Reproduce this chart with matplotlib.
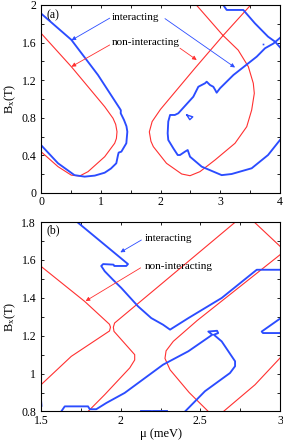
import matplotlib
matplotlib.use('Agg')
import matplotlib.pyplot as plt
from matplotlib.ticker import MultipleLocator

plt.rcParams['font.family'] = ['Liberation Serif', 'DejaVu Serif']
plt.rcParams['mathtext.fontset'] = 'custom'
plt.rcParams['mathtext.rm'] = 'Liberation Serif'
plt.rcParams['mathtext.it'] = 'Liberation Serif:italic'
plt.rcParams['font.size'] = 8

blue = '#2b4cff'
red = '#ff3030'

# ---- panel (a) ----
a_blue_left_x = [0, 0.507, 0.954, 1.317, 1.336, 1.334, 1.389, 1.43, 1.445, 1.428, 1.345, 1.30, 1.289, 1.26, 1.17, 1.066, 0.90, 0.73, 0.56, 0.285, 0]
a_blue_left_y = [1.91, 1.63, 1.255, 0.90, 0.88, 0.848, 0.777, 0.71, 0.652, 0.529, 0.44, 0.43, 0.404, 0.316, 0.26, 0.216, 0.185, 0.174, 0.19, 0.316, 0.51]

a_red_left_x = [0, 0.507, 1.066, 1.205, 1.25, 1.272, 1.262, 1.233, 1.066, 0.787, 0.647, 0.507, 0.285, 0]
a_red_left_y = [1.70, 1.344, 0.918, 0.795, 0.73, 0.652, 0.58, 0.529, 0.386, 0.227, 0.181, 0.19, 0.28, 0.44]

a_red_mid_x = [3.51, 3.04, 2.58, 2.0, 1.86, 1.813, 1.84, 1.88, 2.10, 2.355, 2.494, 2.66, 2.912, 3.247, 3.443, 3.526, 3.57, 3.553, 3.47, 3.30, 3.04, 2.60]
a_red_mid_y = [2.0, 1.67, 1.33, 0.89, 0.76, 0.65, 0.55, 0.493, 0.316, 0.202, 0.184, 0.227, 0.351, 0.529, 0.705, 0.883, 1.06, 1.167, 1.344, 1.52, 1.68, 2.0]

a_blue_top_x = [3.05, 3.108, 3.386, 3.58, 3.80, 3.916, 4.0]
a_blue_top_y = [2.0, 1.947, 1.947, 1.805, 1.663, 1.61, 1.55]

a_blue_mid_x = [4.0, 3.89, 3.75, 3.61, 3.22, 2.996, 2.94, 2.912, 2.884, 2.828, 2.773, 2.745, 2.69, 2.633, 2.549, 2.298, 2.24, 2.16, 2.13, 2.12, 2.13, 2.215, 2.288, 2.326, 2.41, 2.455, 2.494, 2.69, 3.024, 3.19, 3.526, 3.80, 4.0]
a_blue_mid_y = [1.65, 1.59, 1.54, 1.45, 1.255, 1.114, 1.067, 1.10, 1.13, 1.149, 1.184, 1.167, 1.149, 1.13, 1.024, 0.848, 0.83, 0.83, 0.76, 0.635, 0.564, 0.475, 0.404, 0.404, 0.44, 0.457, 0.386, 0.28, 0.19, 0.202, 0.263, 0.404, 0.564]

a_tri_x = [2.44, 2.54, 2.49, 2.44]
a_tri_y = [0.83, 0.81, 0.78, 0.83]
a_dot_x = [3.72]
a_dot_y = [1.59]

# ---- panel (b) ----
b_red_left_x = [1.5, 1.774, 1.93, 1.936, 1.93, 1.69, 1.5]
b_red_left_y = [1.566, 1.381, 1.26, 1.245, 1.225, 1.091, 0.941]

b_red_right_x = [2.72, 2.24, 1.962, 1.954, 1.958, 2.088, 2.088, 2.057, 1.90, 1.795]
b_red_right_y = [1.80, 1.462, 1.267, 1.245, 1.223, 1.10, 1.072, 1.03, 0.889, 0.80]

b_red_loop_x = [3.0, 2.72, 2.48, 2.33, 2.285, 2.278, 2.31, 2.43, 2.55]
b_red_loop_y = [1.627, 1.44, 1.28, 1.17, 1.12, 1.08, 1.02, 0.90, 0.80]

b_red_tr_x = [2.838, 3.0]
b_red_tr_y = [1.80, 1.672]

b_red_br_x = [2.645, 2.843, 3.0]
b_red_br_y = [0.80, 0.941, 1.082]

b_blue_top_x = [1.727, 2.046, 2.035, 1.96, 1.955, 1.89, 1.878, 1.90, 1.952, 2.004, 2.109, 2.192, 2.266, 2.31, 2.425, 2.634, 2.854, 3.0]
b_blue_top_y = [1.80, 1.578, 1.568, 1.568, 1.575, 1.578, 1.568, 1.54, 1.495, 1.452, 1.355, 1.293, 1.258, 1.232, 1.293, 1.399, 1.548, 1.548]

b_blue_loop_x = [1.627, 1.649, 1.795, 1.806, 1.847, 1.91, 2.025, 2.266, 2.425, 2.561, 2.575, 2.55, 2.605, 2.612, 2.585, 2.634, 2.718, 2.718, 2.686, 2.529, 2.404]
b_blue_loop_y = [0.80, 0.827, 0.827, 0.812, 0.812, 0.845, 0.898, 1.047, 1.118, 1.197, 1.205, 1.222, 1.226, 1.214, 1.205, 1.17, 1.065, 1.039, 1.003, 0.907, 0.80]

b_blue_bot1_x = [2.13, 2.19]
b_blue_bot2_x = [2.20, 2.29]
b_blue_bot_y = [0.803, 0.803]

b_blue_edge_x = [1.5, 1.503]
b_blue_edge_y = [0.86, 0.83]

b_blue_wedge_x = [3.0, 2.885, 2.893, 3.0]
b_blue_wedge_y = [1.29, 1.222, 1.214, 1.214]

fig = plt.figure(figsize=(2.83, 4.45), dpi=100)
ax1 = fig.add_axes([0.1449, 0.5663, 0.8445, 0.4225])
ax2 = fig.add_axes([0.1449, 0.0753, 0.8445, 0.4258])

blw = 1.35
rlw = 0.8

ax1.plot(a_red_left_x, a_red_left_y, color=red, lw=rlw)
ax1.plot(a_red_mid_x, a_red_mid_y, color=red, lw=rlw)
ax1.plot(a_blue_left_x, a_blue_left_y, color=blue, lw=blw)
ax1.plot(a_blue_top_x, a_blue_top_y, color=blue, lw=blw)
ax1.plot(a_blue_mid_x, a_blue_mid_y, color=blue, lw=blw)
ax1.plot(a_tri_x, a_tri_y, color=blue, lw=1.0)
ax1.plot(a_dot_x, a_dot_y, 's', color=blue, ms=1.2, mew=0)

ax2.plot(b_red_left_x, b_red_left_y, color=red, lw=rlw)
ax2.plot(b_red_right_x, b_red_right_y, color=red, lw=rlw)
ax2.plot(b_red_loop_x, b_red_loop_y, color=red, lw=rlw)
ax2.plot(b_red_tr_x, b_red_tr_y, color=red, lw=rlw)
ax2.plot(b_red_br_x, b_red_br_y, color=red, lw=rlw)
ax2.plot(b_blue_top_x, b_blue_top_y, color=blue, lw=blw)
ax2.plot(b_blue_loop_x, b_blue_loop_y, color=blue, lw=blw)
ax2.plot(b_blue_bot1_x, b_blue_bot_y, color=blue, lw=blw)
ax2.plot(b_blue_bot2_x, b_blue_bot_y, color=blue, lw=blw)
ax2.plot(b_blue_edge_x, b_blue_edge_y, color=blue, lw=blw)
ax2.plot(b_blue_wedge_x, b_blue_wedge_y, color=blue, lw=blw)


def arrow(ax, tail, tip, c):
    ax.annotate('', xy=tip, xytext=tail,
                arrowprops=dict(arrowstyle='-|>', color=c, lw=0.6,
                                mutation_scale=6, shrinkA=0, shrinkB=0))


ax1.text(1.19, 1.867, 'interacting', va='center', ha='left')
ax1.text(1.18, 1.60, 'non-interacting', va='center', ha='left')
arrow(ax1, (1.15, 1.86), (0.51, 1.625), blue)
arrow(ax1, (2.075, 1.855), (3.247, 1.335), blue)
arrow(ax1, (1.15, 1.575), (0.51, 1.344), red)
arrow(ax1, (2.326, 1.54), (2.606, 1.415), red)

ax2.text(2.153, 1.714, 'interacting', va='center', ha='left')
ax2.text(2.153, 1.564, 'non-interacting', va='center', ha='left')
arrow(ax2, (2.13, 1.705), (1.998, 1.64), blue)
arrow(ax2, (2.125, 1.558), (1.78, 1.383), red)

ax1.text(0.025, 0.945, '(a)', transform=ax1.transAxes, va='center', ha='left', fontsize=8.5)
ax2.text(0.025, 0.957, '(b)', transform=ax2.transAxes, va='center', ha='left', fontsize=8.5)

ax1.set_xlim(0, 4)
ax1.set_ylim(0, 2)
ax1.set_xticks([0, 1, 2, 3, 4])
ax1.xaxis.set_minor_locator(MultipleLocator(0.5))
ax1.set_yticks([0, 0.4, 0.8, 1.2, 1.6, 2])
ax1.set_yticklabels(['0', '0.4', '0.8', '1.2', '1.6', '2'])
ax1.yaxis.set_minor_locator(MultipleLocator(0.2))

ax2.set_xlim(1.5, 3)
ax2.set_ylim(0.8, 1.8)
ax2.set_xticks([1.5, 2, 2.5, 3])
ax2.set_xticklabels(['1.5', '2', '2.5', '3'])
ax2.xaxis.set_minor_locator(MultipleLocator(0.25))
ax2.set_yticks([0.8, 1, 1.2, 1.4, 1.6, 1.8])
ax2.set_yticklabels(['0.8', '1', '1.2', '1.4', '1.6', '1.8'])
ax2.yaxis.set_minor_locator(MultipleLocator(0.1))

for ax in (ax1, ax2):
    ax.tick_params(which='both', direction='in', top=True, right=True,
                   length=2.5, width=0.6, labelsize=8.5)
    ax.tick_params(axis='x', pad=2.5)
    ax.tick_params(axis='y', pad=3.5)
    for s in ax.spines.values():
        s.set_linewidth(0.8)
    ax.set_ylabel('B$_{\\mathrm{x}}$(T)', fontsize=9, labelpad=2)

ax2.set_xlabel('\u03bc (meV)', fontsize=9, labelpad=1)

fig.savefig('out.png', dpi=100)
